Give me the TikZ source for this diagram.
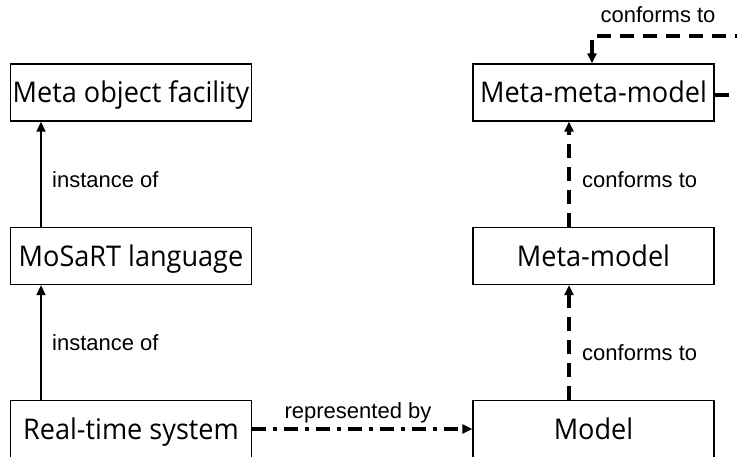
\documentclass[tikz,border=0pt]{standalone}
\usepackage{fontspec}
\setmainfont{Open Sans}
\newfontfamily\lblfont{Liberation Sans}
\usetikzlibrary{arrows.meta}
\newcommand{\boxtext}[1]{\scalebox{0.95}[1]{#1}}
\begin{document}
\begin{tikzpicture}[x=1pt,y=-1pt,
  box/.style={draw=black,line width=1.3pt,minimum width=241pt,minimum height=57pt,inner sep=0pt,text height=21pt,text depth=0pt,font=\fontsize{28.5}{32}\selectfont},
  lbl/.style={font=\lblfont\fontsize{22}{24}\selectfont,inner sep=0pt},
  tip/.style={-{Triangle[width=9pt,length=10pt]}},
  solidarr/.style={tip,line width=1.5pt},
  dasharr/.style={tip,line width=3.5pt,dash pattern=on 14pt off 9pt},
  dotarr/.style={tip,line width=3.5pt,dash pattern=on 14pt off 7pt on 4pt off 7pt}]
\useasboundingbox (0,0) rectangle (737,457);
\clip (0,0) rectangle (737,457);
\node[box] (mof) at (131,92.5) {\boxtext{Meta object facility}};
\node[box] (mmm) at (593.5,92.5) {\boxtext{Meta-meta-model}};
\node[box] (mos) at (131,256) {\boxtext{MoSaRT language}};
\node[box] (mm) at (593.5,256) {\boxtext{Meta-model}};
\node[box] (rts) at (131,429) {\boxtext{Real-time system}};
\node[box] (mod) at (593.5,429) {\boxtext{Model}};
\coordinate (lx) at (41,0);
\coordinate (rx) at (569,0);
\coordinate (tx) at (592,0);
\coordinate (loopr) at (760,95);
\coordinate (loopt) at (760,36);
\draw[solidarr] (mos.north -| lx) -- (mof.south -| lx);
\draw[solidarr] (rts.north -| lx) -- (mos.south -| lx);
\draw[dasharr] (mm.north -| rx) -- (mmm.south -| rx);
\draw[dasharr] (mod.north -| rx) -- (mm.south -| rx);
\draw[dasharr] (mmm.east |- loopr) -- (loopr) -- (loopt) -- (loopt -| tx) -- (mmm.north -| tx);
\draw[dotarr] (rts.east |- 0,429) -- (mod.west |- 0,429);
\node[lbl,anchor=base west] (l1) at (52,188) {instance of};
\node[lbl,anchor=base west] (l2) at (52,351) {instance of};
\node[lbl,anchor=base west] (l3) at (582,188) {conforms to};
\node[lbl,anchor=base west] (l4) at (582,360) {conforms to};
\node[lbl,anchor=base] (l5) at (658,23) {conforms to};
\node[lbl,anchor=base] (l6) at (358,418) {represented by};
\end{tikzpicture}
\end{document}
